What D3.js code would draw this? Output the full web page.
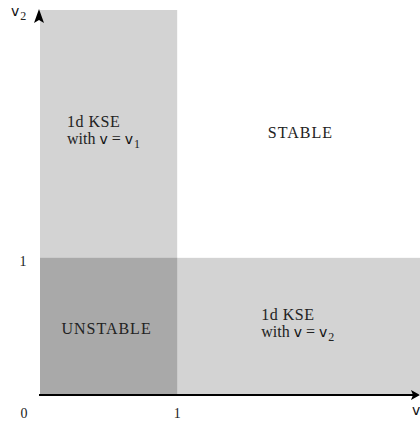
<!DOCTYPE html>
<html><head><meta charset="utf-8">
<script src="https://cdn.jsdelivr.net/npm/d3@7"></script>
<style>
html,body{margin:0;padding:0;background:#fff;}
svg{display:block;}
.serif{font-family:"Liberation Serif","DejaVu Serif",serif;fill:#222;}
.sans{font-family:"DejaVu Sans","Liberation Sans",sans-serif;fill:#111;}
</style>
</head><body>
<svg id="chart" width="420" height="421"></svg>
<script>
// Data (region boundaries in parameter units)
const xMax = 2.77, yMax = 2.82;
const regionNames = ["1d KSE (v = v1)", "1d KSE (v = v2)", "UNSTABLE"];
const regionX0 = [0, 0, 0];
const regionX1 = [1, xMax, 1];
const regionY0 = [0, 0, 0];
const regionY1 = [yMax, 1, 1];
const regionFill = ["#d3d3d3", "#d3d3d3", "#a9a9a9"];
const xTickValues = [0, 1];
const xTickLabels = ["0", "1"];
const yTickValues = [1];
const yTickLabels = ["1"];

const svg = d3.select("#chart");
const x = d3.scaleLinear().domain([0, xMax]).range([40, 420]);
const y = d3.scaleLinear().domain([0, yMax]).range([394, 10]);

const regions = regionNames.map((n, i) => ({name: n, x0: regionX0[i], x1: regionX1[i], y0: regionY0[i], y1: regionY1[i], fill: regionFill[i]}));
svg.selectAll("rect.region").data(regions).enter().append("rect")
  .attr("class", "region")
  .attr("x", d => x(d.x0)).attr("y", d => y(d.y1))
  .attr("width", d => x(d.x1) - x(d.x0)).attr("height", d => y(d.y0) - y(d.y1))
  .attr("fill", d => d.fill);

// Axes
svg.append("line").attr("x1", x(0) - 1).attr("x2", 414).attr("y1", y(0) + 1).attr("y2", y(0) + 1)
  .attr("stroke", "#000").attr("stroke-width", 2);
// x arrow head
svg.append("path")
  .attr("d", `M420,${y(0) + 1} L411,${y(0) - 4} L413,${y(0) + 1} L411,${y(0) + 6} Z`)
  .attr("fill", "#000");
// y arrow head (filled, notched)
const ax = x(0) - 1;
svg.append("path")
  .attr("d", `M${ax},9 L${ax + 5},23 L${ax},20 L${ax - 5},23 Z`)
  .attr("fill", "#000");

// Tick labels
svg.selectAll("text.xt").data(xTickValues).enter().append("text")
  .attr("class", "serif xt").attr("font-size", 14)
  .attr("x", (d, i) => d === 0 ? 24 : x(d)).attr("y", 418)
  .attr("text-anchor", "middle").text((d, i) => xTickLabels[i]);
svg.selectAll("text.yt").data(yTickValues).enter().append("text")
  .attr("class", "serif yt").attr("font-size", 14)
  .attr("x", 23).attr("y", d => y(d) + 8)
  .attr("text-anchor", "middle").text((d, i) => yTickLabels[i]);

// Axis names
const v2 = svg.append("text").attr("class", "sans").attr("font-size", 14).attr("x", 11).attr("y", 16);
v2.append("tspan").text("v");
v2.append("tspan").attr("class", "serif").attr("font-size", 12).attr("dx", 1).attr("dy", 4).text("2");
svg.append("text").attr("class", "sans").attr("font-size", 14).attr("x", 412).attr("y", 415).text("v");

// Region labels
function kseLabel(lx, ly, sub) {
  const g = svg.append("g");
  g.append("text").attr("class", "serif").attr("font-size", 16).attr("letter-spacing", 0.5)
    .attr("x", lx).attr("y", ly).text("1d KSE");
  const t = g.append("text").attr("class", "serif").attr("font-size", 16).attr("x", lx).attr("y", ly + 17);
  t.append("tspan").text("with ");
  t.append("tspan").attr("class", "sans").attr("font-size", 14).text("v");
  t.append("tspan").text(" = ");
  t.append("tspan").attr("class", "sans").attr("font-size", 14).text("v");
  t.append("tspan").attr("font-size", 12).attr("dx", 1).attr("dy", 4).text(sub);
}
kseLabel(x(0.197), y(1.959), "1");
kseLabel(x(1.613), y(0.544), "2");

svg.append("text").attr("class", "serif").attr("font-size", 16).attr("letter-spacing", 1).attr("text-anchor", "middle")
  .attr("x", x(1.898)).attr("y", y(1.882)).text("STABLE");
svg.append("text").attr("class", "serif").attr("font-size", 16).attr("letter-spacing", 1).attr("text-anchor", "middle")
  .attr("x", x(0.485)).attr("y", y(0.441)).text("UNSTABLE");
</script>
</body></html>
